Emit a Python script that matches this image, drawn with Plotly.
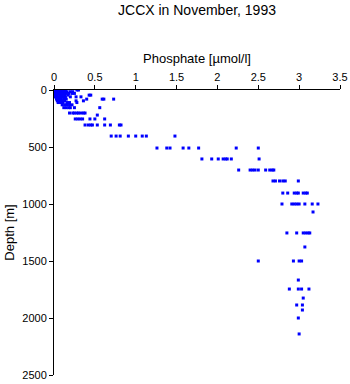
import plotly.graph_objects as go

# (depth [m], list of phosphate values [umol/l])
rows = [
    (0,    [0.0, 0.02, 0.04, 0.05, 0.07, 0.08, 0.10, 0.12, 0.14, 0.28, 0.30]),
    (15,   [0.01, 0.03, 0.06, 0.09, 0.11, 0.13, 0.16, 0.20, 0.23]),
    (30,   [0.0, 0.02, 0.05, 0.08, 0.10, 0.12, 0.15, 0.18, 0.22, 0.25]),
    (45,   [0.01, 0.04, 0.07, 0.10, 0.13, 0.17, 0.43, 0.45]),
    (60,   [0.0, 0.02, 0.05, 0.08, 0.11, 0.14, 0.20, 0.27, 0.33]),
    (80,   [0.03, 0.06, 0.09, 0.12, 0.15, 0.40, 0.59, 0.61, 0.73]),
    (95,   [0.04, 0.07, 0.10, 0.13, 0.27, 0.36]),
    (110,  [0.05, 0.08, 0.11, 0.16, 0.19, 0.28]),
    (130,  [0.10, 0.13, 0.16, 0.19, 0.22]),
    (155,  [0.12, 0.15, 0.18, 0.20, 0.25, 0.56]),
    (202,  [0.19, 0.23, 0.25, 0.28, 0.30, 0.33, 0.36, 0.38]),
    (220,  [0.53]),
    (254,  [0.26, 0.29, 0.32, 0.35, 0.44, 0.50, 0.62]),
    (307,  [0.38, 0.42, 0.45, 0.47, 0.53, 0.62, 0.69, 0.80, 0.82]),
    (404,  [0.70, 0.76, 0.81, 0.91, 1.00, 1.08, 1.13, 1.48]),
    (509,  [1.26, 1.38, 1.42, 1.58, 1.65, 1.77, 2.23, 2.50]),
    (605,  [1.81, 1.93, 2.01, 2.07, 2.10, 2.12, 2.17, 2.51]),
    (702,  [2.26, 2.40, 2.43, 2.46, 2.50, 2.59, 2.64, 2.67, 2.69]),
    (798,  [2.68, 2.71, 2.76, 2.80, 2.83, 2.99]),
    (904,  [2.80, 2.86, 2.94, 2.97, 2.99, 3.05, 3.08, 3.10]),
    (1000, [2.79, 2.91, 2.94, 2.97, 3.00, 3.07, 3.16, 3.23]),
    (1070, [3.17]),
    (1254, [2.85, 2.97, 3.05, 3.08, 3.11, 3.13]),
    (1377, [3.07]),
    (1500, [2.50, 2.93, 3.00, 3.03]),
    (1667, [2.99]),
    (1746, [2.88, 2.99, 3.03, 3.12]),
    (1825, [3.05]),
    (1886, [2.97, 3.04]),
    (1930, [3.04]),
    (2000, [2.99]),
    (2140, [3.00]),
]

depth = [d for d, vals in rows for _ in vals]
phosphate = [v for d, vals in rows for v in vals]

x_ticks = [0, 0.5, 1, 1.5, 2, 2.5, 3, 3.5]
x_tick_labels = ["0", "0.5", "1", "1.5", "2", "2.5", "3", "3.5"]
y_ticks = [0, 500, 1000, 1500, 2000, 2500]

fig = go.Figure(go.Scatter(
    x=phosphate, y=depth, mode="markers",
    marker=dict(symbol="square", size=3, color="#0000ff", line=dict(width=0)),
))

font = "Liberation Sans, Arial, sans-serif"
fig.update_layout(
    width=350, height=384,
    margin=dict(l=54, r=10, t=90, b=9),
    paper_bgcolor="white", plot_bgcolor="white",
    showlegend=False,
    font=dict(family=font, size=11, color="black"),
    title=dict(text="JCCX in November, 1993", x=197/350, xanchor="center",
               y=1 - 10/384, yanchor="middle", font=dict(size=14)),
)
fig.update_xaxes(
    side="top", range=[0, 3.5], tickvals=x_ticks, ticktext=x_tick_labels,
    showgrid=False, zeroline=False, showline=True, linecolor="black", linewidth=1,
    ticks="outside", ticklen=4, tickcolor="black", automargin=False,
    title=dict(text="Phosphate [µmol/l]", standoff=4),
)
fig.update_yaxes(
    range=[2500, 0], tickvals=y_ticks,
    showgrid=False, zeroline=False, showline=True, linecolor="black", linewidth=1,
    ticks="outside", ticklen=4, tickcolor="black", automargin=False,
    title=dict(text="Depth [m]", standoff=4),
)

fig.write_html("out.html")
